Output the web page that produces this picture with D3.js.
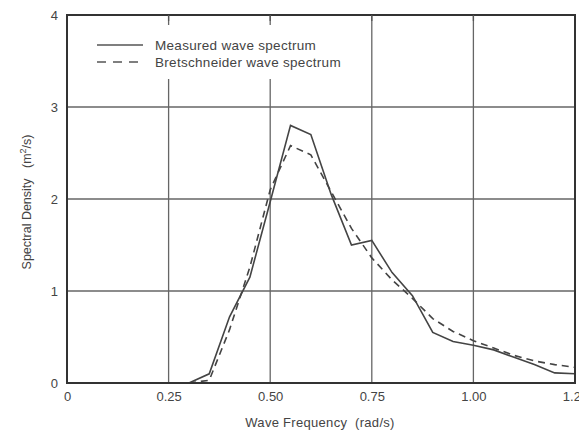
<!DOCTYPE html>
<html>
<head>
<meta charset="utf-8">
<script src="https://cdn.jsdelivr.net/npm/d3@7"></script>
<style>
  body { margin: 0; background: #fff; }
  text { font-family: "Liberation Sans", Arial, sans-serif; fill: #444; white-space: pre; }
</style>
</head>
<body>
<script>
// data
let freqs = [0.30, 0.35, 0.40, 0.45, 0.50, 0.55, 0.60, 0.65, 0.70, 0.75,
             0.80, 0.85, 0.90, 0.95, 1.00, 1.05, 1.10, 1.15, 1.20, 1.25]
let measured = [0, 0.10, 0.72, 1.15, 1.97, 2.80, 2.70, 2.05, 1.50, 1.55,
                1.20, 0.95, 0.55, 0.45, 0.41, 0.36, 0.28, 0.20, 0.11, 0.10]
let bretschneider = [0, 0.03, 0.58, 1.26, 2.10, 2.58, 2.48, 2.08, 1.68, 1.36,
                     1.12, 0.92, 0.70, 0.56, 0.46, 0.38, 0.30, 0.24, 0.20, 0.17]
let xTicks = [0, 0.25, 0.5, 0.75, 1.0, 1.25]
let xTickLabels = ['0', '0.25', '0.50', '0.75', '1.00', '1.25']
let yTicks = [0, 1, 2, 3, 4]
let seriesNames = ['Measured wave spectrum', 'Bretschneider wave spectrum']

let svgWidth = 579
let svgHeight = 440
let margin = {top: 15, right: 4, left: 67, bottom: 57}
let innerWidth = svgWidth - margin.left - margin.right
let innerHeight = svgHeight - margin.top - margin.bottom

let svg = d3.select('body').append('svg')
    .attr('width', svgWidth)
    .attr('height', svgHeight)

let inner = svg.append('g')
    .attr('transform', 'translate(' + margin.left + ',' + margin.top + ')')

let xScale = d3.scaleLinear().domain([0, 1.25]).range([0, innerWidth])
let yScale = d3.scaleLinear().domain([0, 4]).range([innerHeight, 0])

// grid
inner.selectAll('.vgrid').data(xTicks.slice(1, -1)).join('line')
    .attr('x1', d => xScale(d)).attr('x2', d => xScale(d))
    .attr('y1', 0).attr('y2', innerHeight)
    .style('stroke', '#666').style('stroke-width', 1.3)
inner.selectAll('.hgrid').data(yTicks.slice(1, -1)).join('line')
    .attr('y1', d => yScale(d)).attr('y2', d => yScale(d))
    .attr('x1', 0).attr('x2', innerWidth)
    .style('stroke', '#666').style('stroke-width', 1.3)

// legend box hides grid behind it
let legend = inner.append('g').attr('transform', 'translate(20,10)')
legend.append('rect')
    .attr('x', 0).attr('y', 0).attr('width', 278).attr('height', 54)
    .style('fill', '#fff')

// lines
let line = d3.line()
    .x((d, i) => xScale(freqs[i]))
    .y(d => yScale(d))

inner.append('path').datum(measured)
    .attr('d', line)
    .style('fill', 'none').style('stroke', '#444').style('stroke-width', 1.6)
inner.append('path').datum(bretschneider)
    .attr('d', line)
    .style('fill', 'none').style('stroke', '#444').style('stroke-width', 1.6)
    .style('stroke-dasharray', '7,5')

// legend contents
legend.selectAll('.leg-line').data(seriesNames).join('line')
    .attr('x1', 10).attr('x2', 56)
    .attr('y1', (d, i) => 20 + i * 17).attr('y2', (d, i) => 20 + i * 17)
    .style('stroke', '#555').style('stroke-width', 1.6)
    .style('stroke-dasharray', (d, i) => i == 1 ? '9,7' : null)
legend.selectAll('.leg-text').data(seriesNames).join('text')
    .attr('x', 68).attr('y', (d, i) => 25 + i * 17)
    .style('font-size', '13.5px')
    .style('letter-spacing', '0.3px')
    .text(d => d)

// frame and axes
inner.append('rect')
    .attr('width', innerWidth).attr('height', innerHeight)
    .style('fill', 'none').style('stroke', '#333').style('stroke-width', 2)

let xAxis = d3.axisBottom(xScale).tickValues(xTicks)
    .tickFormat((d, i) => xTickLabels[i]).tickSize(0).tickPadding(9)
let gx = inner.append('g').attr('transform', 'translate(0,' + innerHeight + ')').call(xAxis)
gx.select('.domain').remove()
gx.selectAll('text').style('font-size', '13px').style('fill', '#444')

let yAxis = d3.axisLeft(yScale).tickValues(yTicks).tickFormat(d3.format('d'))
    .tickSize(0).tickPadding(9)
let gy = inner.append('g').call(yAxis)
gy.select('.domain').remove()
gy.selectAll('text').style('font-size', '13px').style('fill', '#444')

// small inner ticks on top edge
inner.selectAll('.top-tick').data(xTicks.slice(1, -1)).join('line')
    .attr('x1', d => xScale(d)).attr('x2', d => xScale(d))
    .attr('y1', 0).attr('y2', 6)
    .style('stroke', '#555').style('stroke-width', 1.3)

// axis titles
svg.append('text')
    .attr('x', 320).attr('y', 427)
    .attr('text-anchor', 'middle')
    .style('font-size', '13px')
    .style('letter-spacing', '0.3px')
    .text('Wave Frequency  (rad/s)')

let yTitle = svg.append('text')
    .attr('transform', 'translate(31,' + 202 + ') rotate(-90)')
    .attr('text-anchor', 'middle')
    .style('font-size', '12.5px')
yTitle.append('tspan').text('Spectral Density   (m')
yTitle.append('tspan').attr('dy', -5).style('font-size', '9px').text('2')
yTitle.append('tspan').attr('dy', 5).text('/s)')
</script>
</body>
</html>
